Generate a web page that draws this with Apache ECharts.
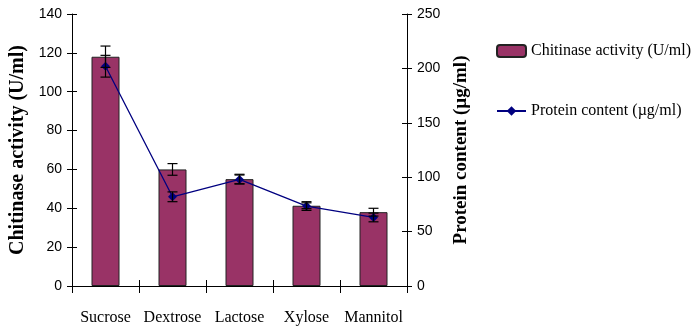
<!DOCTYPE html>
<html>
<head>
<meta charset="utf-8">
<script src="https://cdn.jsdelivr.net/npm/echarts@6/dist/echarts.min.js"></script>
<style>
  html, body { margin: 0; padding: 0; background: #fff; }
  #chart { width: 692px; height: 330px; }
</style>
</head>
<body>
<div id="chart"></div>
<script>
// Carbon sources tested
const categories = ['Sucrose', 'Dextrose', 'Lactose', 'Xylose', 'Mannitol'];
// Chitinase activity (U/ml) and its standard error
const chitinase = [118, 60, 55, 41.3, 38];
const chitinaseErr = [5.5, 3, 2.5, 1.5, 2];
// Protein content (µg/ml) and its standard error
const protein = [202, 82, 98, 73.5, 63];
const proteinErr = [10, 4.5, 4, 4, 4];
// Axis ticks
const leftTicks = { min: 0, max: 140, interval: 20 };
const rightTicks = { min: 0, max: 250, interval: 50 };

const serif = '"Liberation Serif", "Times New Roman", serif';
const sans = '"Liberation Sans", Arial, sans-serif';

function errorBars(values, errs, yAxisIndex, capHalf) {
  return {
    type: 'custom',
    yAxisIndex: yAxisIndex,
    silent: true,
    z: 5,
    data: values.map((v, i) => [i, v - errs[i], v + errs[i]]),
    renderItem: function (params, api) {
      const lo = api.coord([api.value(0), api.value(1)]);
      const hi = api.coord([api.value(0), api.value(2)]);
      const x = lo[0];
      const style = { stroke: '#000', lineWidth: 1.2 };
      return {
        type: 'group',
        children: [
          { type: 'line', shape: { x1: x, y1: lo[1], x2: x, y2: hi[1] }, style: style },
          { type: 'line', shape: { x1: x - capHalf, y1: lo[1], x2: x + capHalf, y2: lo[1] }, style: style },
          { type: 'line', shape: { x1: x - capHalf, y1: hi[1], x2: x + capHalf, y2: hi[1] }, style: style }
        ]
      };
    }
  };
}

const chart = echarts.init(document.getElementById('chart'));
const axisLine = { show: true, lineStyle: { color: '#000', width: 1 } };

chart.setOption({
  animation: false,
  grid: { left: 72, right: 285, top: 14, bottom: 44 },
  legend: {
    orient: 'vertical',
    left: 491,
    top: 38,
    itemGap: 44,
    itemWidth: 29,
    itemHeight: 12,
    textStyle: { fontFamily: serif, fontSize: 16, color: '#000' },
    data: ['Chitinase activity (U/ml)', 'Protein content (µg/ml)']
  },
  xAxis: [
    {
      type: 'category',
      data: categories,
      axisLine: axisLine,
      axisTick: { show: true, length: 7, lineStyle: { color: '#000' } },
      axisLabel: { fontFamily: serif, fontSize: 16, color: '#000', margin: 24, interval: 0 }
    },
    {
      type: 'category',
      data: categories,
      position: 'bottom',
      axisLine: { show: false },
      axisTick: { show: true, inside: true, length: 6, lineStyle: { color: '#000' } },
      axisLabel: { show: false }
    }
  ],
  yAxis: [
    {
      type: 'value',
      position: 'left',
      min: leftTicks.min, max: leftTicks.max, interval: leftTicks.interval,
      name: 'Chitinase activity (U/ml)',
      nameLocation: 'middle',
      nameGap: 44,
      nameTextStyle: { fontFamily: serif, fontSize: 20, fontWeight: 'bold', color: '#000' },
      axisLine: axisLine,
      axisTick: { show: true, length: 5, lineStyle: { color: '#000' } },
      axisLabel: { fontFamily: sans, fontSize: 14, color: '#000', margin: 10 },
      splitLine: { show: false }
    },
    {
      type: 'value',
      position: 'right',
      min: rightTicks.min, max: rightTicks.max, interval: rightTicks.interval,
      name: 'Protein content (µg/ml)',
      nameLocation: 'middle',
      nameGap: 45,
      nameTextStyle: { fontFamily: serif, fontSize: 19, fontWeight: 'bold', color: '#000' },
      axisLine: axisLine,
      axisTick: { show: true, length: 5, lineStyle: { color: '#000' } },
      axisLabel: { fontFamily: sans, fontSize: 14, color: '#000', margin: 10 },
      splitLine: { show: false }
    },
    {
      type: 'value',
      position: 'left',
      min: leftTicks.min, max: leftTicks.max, interval: leftTicks.interval,
      axisLine: { show: false },
      axisTick: { show: true, inside: true, length: 5, lineStyle: { color: '#000' } },
      axisLabel: { show: false },
      splitLine: { show: false }
    },
    {
      type: 'value',
      position: 'right',
      min: rightTicks.min, max: rightTicks.max, interval: rightTicks.interval,
      axisLine: { show: false },
      axisTick: { show: true, inside: true, length: 5, lineStyle: { color: '#000' } },
      axisLabel: { show: false },
      splitLine: { show: false }
    }
  ],
  series: [
    {
      name: 'Chitinase activity (U/ml)',
      type: 'bar',
      yAxisIndex: 0,
      data: chitinase,
      barWidth: 28,
      itemStyle: { color: '#993366', borderColor: '#222', borderWidth: 1 },
      z: 2
    },
    errorBars(chitinase, chitinaseErr, 0, 5),
    {
      name: 'Protein content (µg/ml)',
      type: 'line',
      yAxisIndex: 1,
      data: protein,
      symbol: 'diamond',
      symbolSize: 9,
      lineStyle: { color: '#000080', width: 1.3 },
      itemStyle: { color: '#000080' },
      z: 4
    },
    errorBars(protein, proteinErr, 1, 5)
  ]
});
</script>
</body>
</html>
